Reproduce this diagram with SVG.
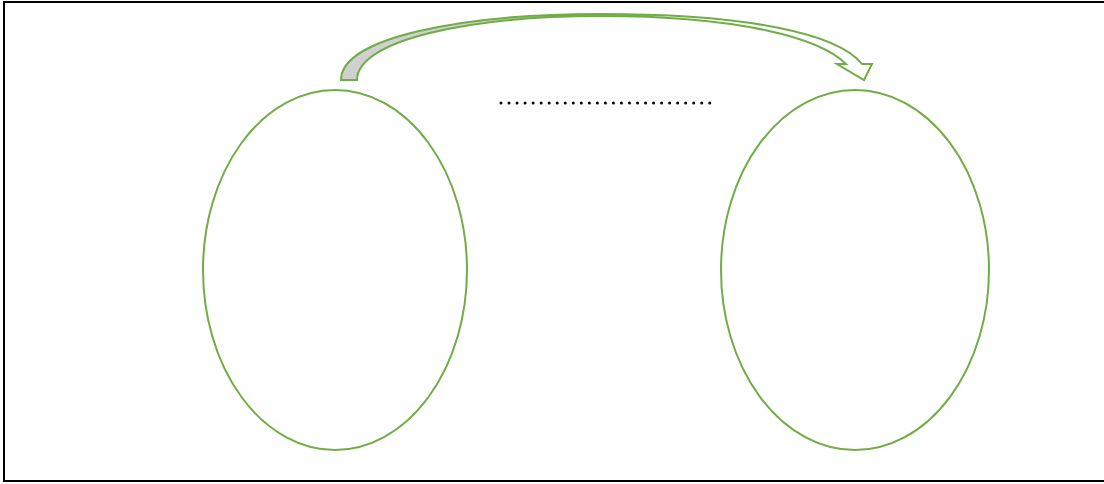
<svg xmlns="http://www.w3.org/2000/svg" width="1104" height="484" viewBox="0 0 1104 484">
  <style>
    .frame { fill: #ffffff; stroke: #000000; stroke-width: 2; }
    .node { fill: #ffffff; stroke: #70ad47; stroke-width: 2; }
    .arrow { stroke: #70ad47; stroke-width: 2; stroke-linejoin: miter; }
    .dots { fill: none; stroke: #000000; stroke-width: 3; stroke-linecap: round; stroke-dasharray: 0 8.03; }
  </style>
  <defs>
    <linearGradient id="bandFill" gradientUnits="userSpaceOnUse" x1="330" y1="0" x2="880" y2="0">
      <stop offset="0" stop-color="#d0d0d0"/>
      <stop offset="0.47" stop-color="#d0d0d0"/>
      <stop offset="0.48" stop-color="#ffffff"/>
      <stop offset="1" stop-color="#ffffff"/>
    </linearGradient>
  </defs>
  <rect class="frame" x="4" y="2" width="1112" height="479"/>
  <g id="node-left">
    <ellipse class="node" cx="335" cy="270" rx="132" ry="180"/>
  </g>
  <g id="node-right">
    <ellipse class="node" cx="855" cy="270" rx="134" ry="180"/>
  </g>
  <g id="connectors">
    <path class="arrow" fill="url(#bandFill)" d="M341,80 C341,38 460,14 600,14 C750,14 838,34 862,64 L872,64 L864,80 L837,64 L846,64 C820,38 740,16 600,16 C470,16 357,40 357,80 Z"/>
    <line class="dots" x1="501" y1="103" x2="710" y2="103"/>
  </g>
</svg>
